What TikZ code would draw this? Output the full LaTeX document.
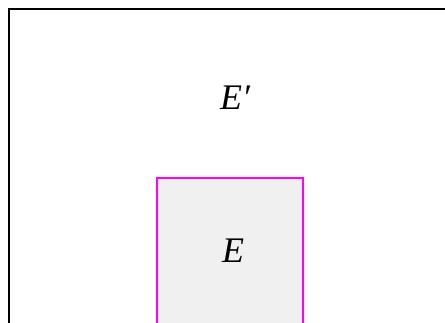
\documentclass[tikz,border=0pt]{standalone}
\usepackage{fontspec}
\setmainfont{Liberation Serif}
\definecolor{boxgray}{HTML}{F0F0F0}
\definecolor{edgemagenta}{RGB}{255,0,255}
\tikzset{
  outer/.style={draw=black, line width=2.6pt},
  inner/.style={draw=edgemagenta, fill=boxgray, line width=2.6pt},
  lab/.style={font=\fontsize{36}{38}\selectfont\itshape, inner sep=0pt, anchor=base}
}
\begin{document}
\begin{tikzpicture}[x=1pt,y=1pt]
  \useasboundingbox (0,0) rectangle (445,323);
  \clip (0,0) rectangle (445,323);
  \fill[white] (0,0) rectangle (445,323);
  \draw[outer] (9,314) rectangle (460,-20);
  \draw[inner] (157,145) rectangle (303,-20);
  \node[lab] (Eprime) at (235,213) {E\char"2032};
  \node[lab] (E) at (233,60) {E};
\end{tikzpicture}
\end{document}
